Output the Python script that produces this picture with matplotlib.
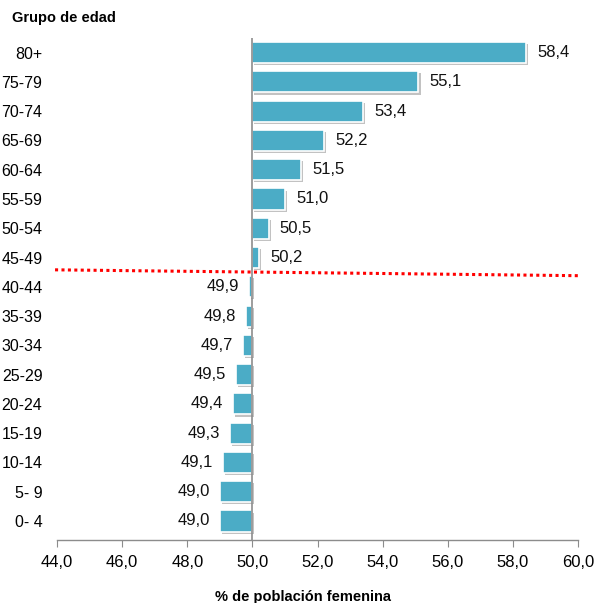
import matplotlib
matplotlib.use("Agg")
import matplotlib.pyplot as plt
import matplotlib.patheffects as pe

plt.rcParams['font.family'] = ['Liberation Sans', 'DejaVu Sans']

groups = ["80+", "75-79", "70-74", "65-69", "60-64", "55-59", "50-54", "45-49",
          "40-44", "35-39", "30-34", "25-29", "20-24", "15-19", "10-14", "5- 9", "0- 4"]
values = [58.4, 55.1, 53.4, 52.2, 51.5, 51.0, 50.5, 50.2,
          49.9, 49.8, 49.7, 49.5, 49.4, 49.3, 49.1, 49.0, 49.0]
baseline = 50.0
xticks = [44, 46, 48, 50, 52, 54, 56, 58, 60]

fig = plt.figure(figsize=(5.95, 6.03), dpi=100)
ax = fig.add_axes([57/595, 1-540/603, (578-57)/595, (540-38)/603])

n = len(groups)
ypos = [n - 1 - i for i in range(n)]
widths = [v - baseline for v in values]
bars = ax.barh(ypos, widths, left=baseline, height=0.72, color='#4BACC6',
               edgecolor='white', linewidth=1.2, zorder=3)
for b in bars:
    b.set_path_effects([pe.SimplePatchShadow(offset=(1.5, -1.5), shadow_rgbFace='#9a9a9a', alpha=0.6),
                        pe.Normal()])

for y, v in zip(ypos, values):
    lab = f"{v:.1f}".replace('.', ',')
    if v >= baseline:
        ax.annotate(lab, (v, y), xytext=(8, 0), textcoords='offset points',
                    ha='left', va='center', fontsize=12, color='#111111')
    else:
        ax.annotate(lab, (v, y), xytext=(-7, 0), textcoords='offset points',
                    ha='right', va='center', fontsize=12, color='#111111')

ax.axvline(baseline, color='#8c8c8c', lw=1.2, zorder=4)
ax.plot([43.94, 60.0], [8.58, 8.38], color='#ff0000', lw=2.2, ls=(0, (1, 1.1)),
        clip_on=False, zorder=5)

ax.set_xlim(44, 60)
ax.set_ylim(-0.65, 16.5)
ax.set_xticks(xticks)
ax.set_xticklabels([f"{t:.1f}".replace('.', ',') for t in xticks], fontsize=12)
ax.set_yticks(ypos)
ax.set_yticklabels(groups, fontsize=11.5)
ax.tick_params(axis='y', length=0, pad=10.5)
ax.tick_params(axis='x', length=5, direction='out', color='#8c8c8c', pad=6)
for s in ['top', 'right', 'left']:
    ax.spines[s].set_visible(False)
ax.spines['bottom'].set_color('#8c8c8c')
ax.spines['bottom'].set_linewidth(1.0)

fig.text(12/595, 1-18/603, "Grupo de edad", ha='left', va='center',
         fontsize=10.5, fontweight='bold')
fig.text(303/595, 1-597/603, "% de población femenina", ha='center', va='center',
         fontsize=10.5, fontweight='bold')

fig.savefig("out.png", dpi=100)
